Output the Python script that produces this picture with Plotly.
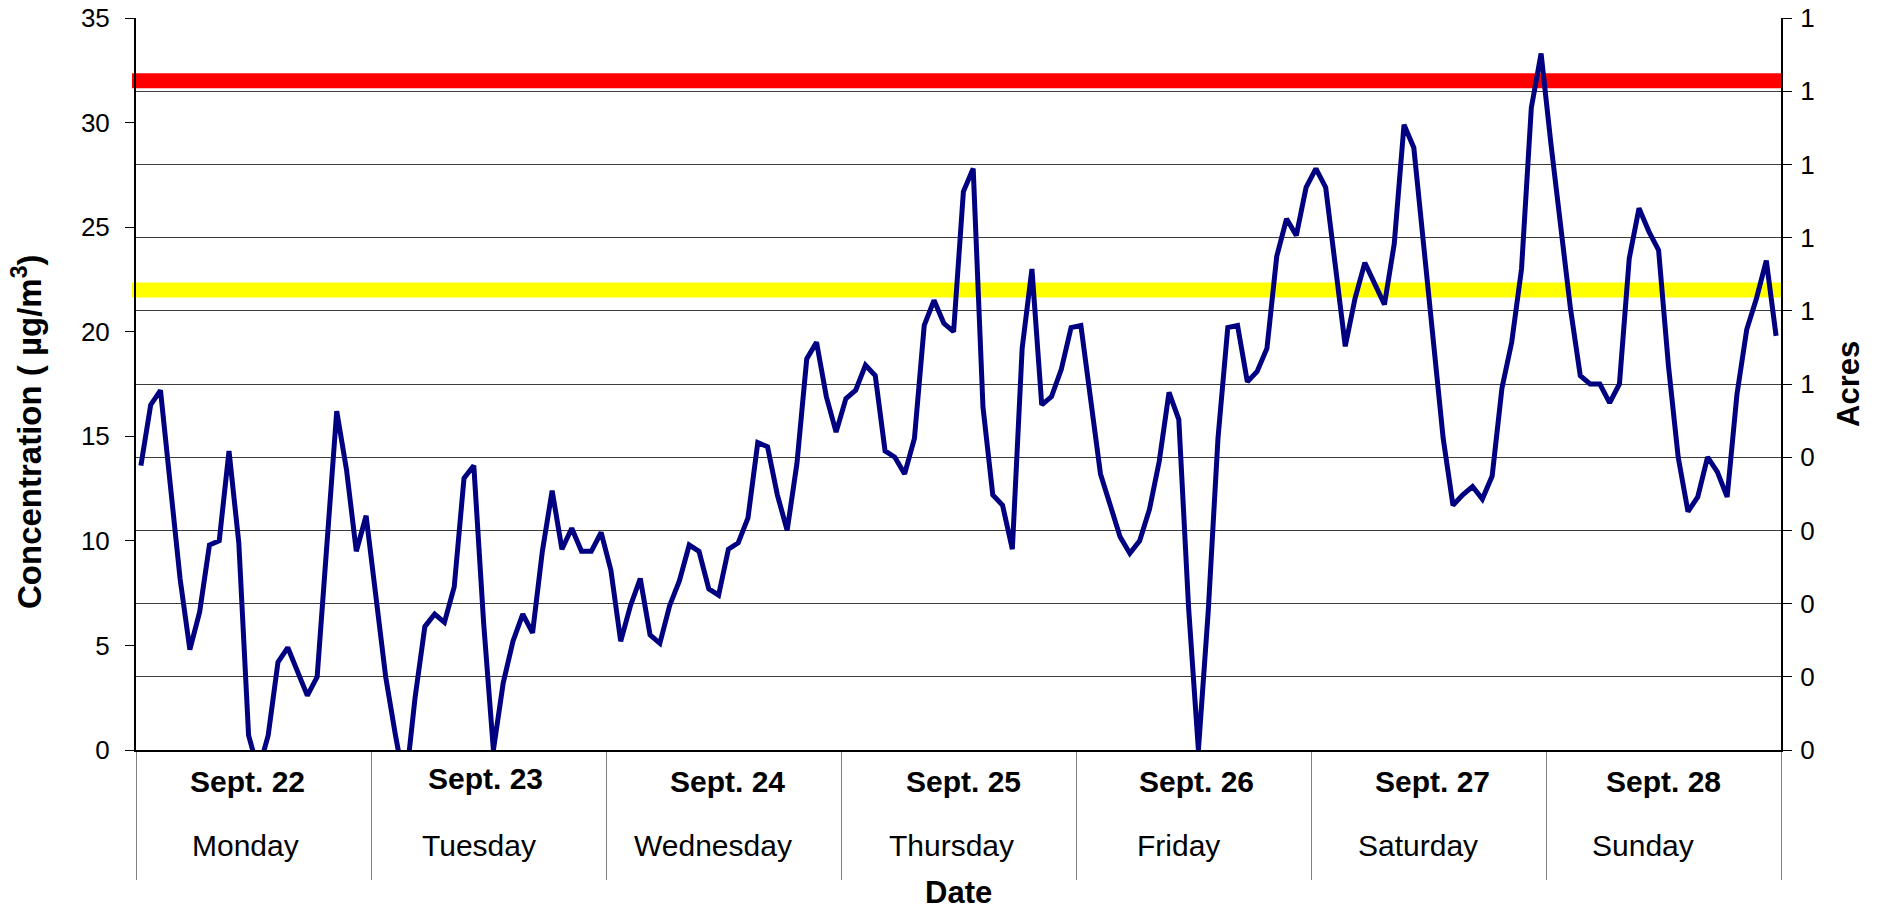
import plotly.graph_objects as go

# ---------------- data ----------------
dates = ["Sept. 22", "Sept. 23", "Sept. 24", "Sept. 25", "Sept. 26", "Sept. 27", "Sept. 28"]
weekdays = ["Monday", "Tuesday", "Wednesday", "Thursday", "Friday", "Saturday", "Sunday"]
hours_per_day = 24

monday = [13.6, 16.5, 17.2, 12.5, 8.2, 4.8, 6.6, 9.8, 10.0, 14.3, 9.9, 0.7,
          -1.0, 0.7, 4.2, 4.9, 3.7, 2.6, 3.5, 9.6, 16.2, 13.4, 9.5, 11.2]
tuesday = [7.3, 3.5, 0.7, -1.8, 2.5, 5.9, 6.5, 6.1, 7.8, 13.0, 13.6, 6.1,
           0.0, 3.2, 5.2, 6.5, 5.6, 9.5, 12.4, 9.6, 10.6, 9.5, 9.5, 10.4]
wednesday = [8.6, 5.2, 6.9, 8.2, 5.5, 5.1, 6.9, 8.1, 9.8, 9.5, 7.7, 7.4,
             9.6, 9.9, 11.1, 14.7, 14.5, 12.2, 10.5, 13.7, 18.7, 19.5, 16.9, 15.2]
thursday = [16.8, 17.2, 18.4, 17.9, 14.3, 14.0, 13.2, 14.9, 20.3, 21.5, 20.4, 20.0,
            26.7, 27.8, 16.4, 12.2, 11.7, 9.6, 19.2, 23.0, 16.5, 16.9, 18.2, 20.2]
friday = [20.3, 16.7, 13.2, 11.7, 10.2, 9.4, 10.0, 11.5, 13.8, 17.1, 15.8, 6.8,
          0.0, 6.6, 14.9, 20.2, 20.3, 17.6, 18.1, 19.2, 23.6, 25.4, 24.6, 26.9]
saturday = [27.8, 26.9, 23.0, 19.3, 21.6, 23.3, 22.3, 21.3, 24.2, 29.9, 28.8, 24.3,
            19.6, 14.9, 11.7, 12.2, 12.6, 12.0, 13.1, 17.3, 19.5, 23.0, 30.7, 33.3]
sunday = [29.0, 25.0, 21.1, 17.9, 17.5, 17.5, 16.6, 17.5, 23.5, 25.9, 24.8, 23.9,
          18.4, 14.0, 11.4, 12.1, 14.0, 13.3, 12.1, 17.0, 20.1, 21.6, 23.4, 19.8]

concentration = monday + tuesday + wednesday + thursday + friday + saturday + sunday
hours = list(range(len(concentration)))

thresholds = [32, 22]
threshold_colors = ["#FF0000", "#FFFF00"]

left_ticks = [0, 5, 10, 15, 20, 25, 30, 35]
acres_tickvals = [0, 0.1, 0.2, 0.3, 0.4, 0.5, 0.6, 0.7, 0.8, 0.9, 1.0]
acres_ticktext = ["0", "0", "0", "0", "0", "1", "1", "1", "1", "1", "1"]

# label nudges (pixels) to mimic the original placement
date_dx = [-6, -3, 4, 5, 3, 3.5, 0]
date_dy = [0, 3, 0, 0, 0, 0, 0]
day_dx = [-8, -10, -10.5, -7, -15.5, -10.5, -20.5]

FONT = "Liberation Sans, Arial, sans-serif"
W, H = 1883, 909
L, R, T, B = 136, 102, 18, 159
plot_w = W - L - R

fig = go.Figure()
fig.add_trace(go.Scatter(
    x=hours, y=concentration, mode="lines",
    line=dict(color="#000080", width=5),
    showlegend=False, hoverinfo="x+y"))
fig.add_trace(go.Scatter(x=[None], y=[None], yaxis="y2", mode="lines",
                         showlegend=False, hoverinfo="skip"))

n_days = len(dates)
boundaries = [d * hours_per_day - 0.5 for d in range(n_days + 1)]

for val, col in zip(thresholds, threshold_colors):
    fig.add_shape(type="line", xref="paper", yref="y",
                  x0=-4 / plot_w, x1=1 + 2 / plot_w, y0=val, y1=val,
                  line=dict(color=col, width=15), layer="between")

annotations = []
for i in range(n_days):
    cx = i * hours_per_day + (hours_per_day - 1) / 2
    annotations.append(dict(
        x=cx, y=0, xref="x", yref="paper", text="<b>" + dates[i] + "</b>",
        showarrow=False, xanchor="center", yanchor="middle",
        xshift=date_dx[i], yshift=-31 + date_dy[i],
        font=dict(family=FONT, size=30, color="black")))
    annotations.append(dict(
        x=cx, y=0, xref="x", yref="paper", text=weekdays[i],
        showarrow=False, xanchor="center", yanchor="middle",
        xshift=day_dx[i], yshift=-95,
        font=dict(family=FONT, size=30, color="black")))

annotations.append(dict(
    x=0.5, y=0, xref="paper", yref="paper", text="<b>Date</b>",
    showarrow=False, xanchor="center", yanchor="middle", yshift=-142,
    font=dict(family=FONT, size=31, color="black")))
annotations.append(dict(
    x=0, y=0.5, xref="paper", yref="paper",
    text="<b>Concentration ( µg/m<sup>3</sup>)</b>", textangle=-90,
    showarrow=False, xanchor="center", yanchor="middle",
    xshift=-109, yshift=-48,
    font=dict(family=FONT, size=33, color="black")))
annotations.append(dict(
    x=1, y=0.5, xref="paper", yref="paper", text="<b>Acres</b>", textangle=-90,
    showarrow=False, xanchor="center", yanchor="middle", xshift=67,
    font=dict(family=FONT, size=31, color="black")))

fig.update_layout(
    width=W, height=H, autosize=False,
    margin=dict(l=L, r=R, t=T, b=B, pad=0, autoexpand=False),
    paper_bgcolor="white", plot_bgcolor="white",
    font=dict(family=FONT, size=26, color="black"),
    showlegend=False,
    xaxis=dict(
        range=[-0.5, len(concentration) - 0.5], automargin=False,
        showgrid=False, zeroline=False,
        showline=True, linecolor="black", linewidth=2,
        tickmode="array", tickvals=boundaries,
        ticks="outside", ticklen=128, tickcolor="#808080", tickwidth=1,
        showticklabels=False, fixedrange=True),
    yaxis=dict(
        range=[0, 35], tickmode="array", tickvals=left_ticks, automargin=False,
        showgrid=False, zeroline=False,
        showline=True, linecolor="black", linewidth=2,
        ticks="outside", ticklen=9, tickcolor="black", tickwidth=1,
        ticklabelstandoff=10,
        tickfont=dict(family=FONT, size=26, color="black"), fixedrange=True),
    yaxis2=dict(
        range=[0, 1], overlaying="y", side="right", anchor="x", automargin=False,
        tickmode="array", tickvals=acres_tickvals, ticktext=acres_ticktext,
        showgrid=True, gridcolor="#3c3c3c", gridwidth=1,
        zeroline=False,
        showline=True, linecolor="black", linewidth=2,
        ticks="outside", ticklen=9, tickcolor="black", tickwidth=1,
        ticklabelstandoff=3,
        tickfont=dict(family=FONT, size=26, color="black"), fixedrange=True),
    annotations=annotations,
)

fig.write_html("out.html", config={"displayModeBar": False},
               post_script="document.body.style.margin='0';document.body.style.overflow='hidden';")
